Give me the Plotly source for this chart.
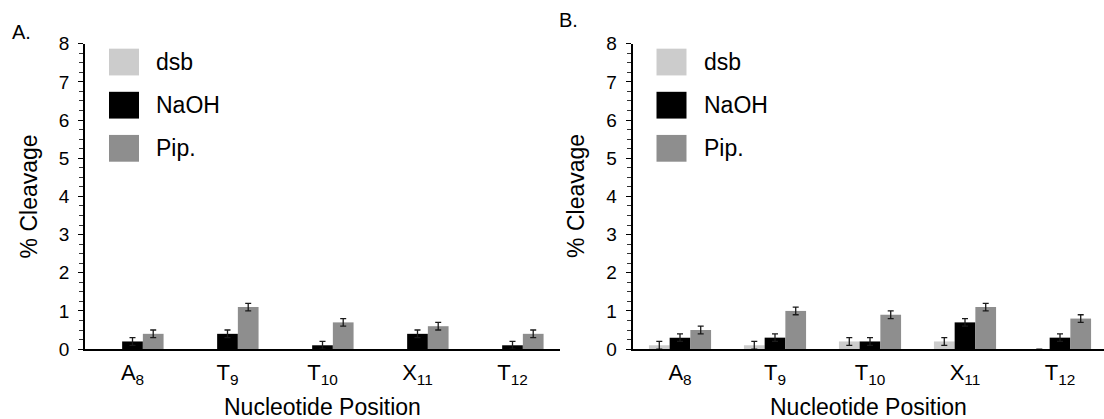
import plotly.graph_objects as go

# Nucleotide positions (x categories)
positions = ["A<sub>8</sub>", "T<sub>9</sub>", "T<sub>10</sub>", "X<sub>11</sub>", "T<sub>12</sub>"]
series_names = ["dsb", "NaOH", "Pip."]

# Panel A: % cleavage and error per treatment
a_dsb = [0.0, 0.0, 0.0, 0.0, 0.0]
a_naoh = [0.2, 0.4, 0.1, 0.4, 0.1]
a_pip = [0.4, 1.1, 0.7, 0.6, 0.4]
a_dsb_err = [None, None, None, None, None]
a_naoh_err = [0.1, 0.1, 0.1, 0.1, 0.1]
a_pip_err = [0.1, 0.1, 0.1, 0.1, 0.1]

# Panel B: % cleavage and error per treatment
b_dsb = [0.1, 0.1, 0.2, 0.2, 0.0]
b_naoh = [0.3, 0.3, 0.2, 0.7, 0.3]
b_pip = [0.5, 1.0, 0.9, 1.1, 0.8]
b_dsb_err = [0.1, 0.1, 0.1, 0.1, 0.0]
b_naoh_err = [0.1, 0.1, 0.1, 0.1, 0.1]
b_pip_err = [0.1, 0.1, 0.1, 0.1, 0.1]

colors = {"dsb": "#cccccc", "NaOH": "#000000", "Pip.": "#8e8e8e"}

W, H = 1104, 419
FONT = "Liberation Sans, Arial, Helvetica, sans-serif"

# vertical placement helper (page offset / scale of the rendered figure)
V_OFF, V_SCALE = 8.0, 0.958


def px(x):
    return x / W


def py(y):
    return 1 - ((y - V_OFF) / V_SCALE) / H


fig = go.Figure()

panels = [
    ("x", "y", [a_dsb, a_naoh, a_pip], [a_dsb_err, a_naoh_err, a_pip_err]),
    ("x2", "y2", [b_dsb, b_naoh, b_pip], [b_dsb_err, b_naoh_err, b_pip_err]),
]
for xa, ya, vals, errs in panels:
    for name, v, e in zip(series_names, vals, errs):
        has_err = any(val is not None for val in e)
        fig.add_trace(go.Bar(
            x=positions, y=v, name=name, xaxis=xa, yaxis=ya,
            marker=dict(color=colors[name], line=dict(width=0)),
            error_y=dict(type="data", array=e, visible=has_err,
                         color="#1a1a1a", thickness=1.3, width=3),
            showlegend=False,
        ))

# plot-area geometry (pixels)
a_left, a_right = 85, 560
b_left, b_right = 632.5, 1104
y_top, y_bot = 42, 350
y_dom = [py(y_bot), py(y_top)]

xcommon = dict(
    showline=True, linecolor="black", linewidth=1.5, ticks="",
    showgrid=False, zeroline=False, type="category",
    tickfont=dict(family=FONT, size=22, color="black"),
    ticklabelstandoff=3,
)
ycommon = dict(
    range=[0, 8], tick0=0, dtick=1, showline=True, linecolor="black",
    linewidth=1.5, ticks="outside", ticklen=5, tickwidth=1.3, tickcolor="black",
    showgrid=False, zeroline=False,
    tickfont=dict(family=FONT, size=19, color="black"),
    ticklabelstandoff=5,
    minor=dict(tick0=0, dtick=0.25, ticks="outside", ticklen=4, tickwidth=1,
               tickcolor="#333333", showgrid=False),
)

fig.update_layout(
    width=W, height=H,
    margin=dict(l=0, r=0, t=0, b=0),
    paper_bgcolor="white", plot_bgcolor="white",
    barmode="group", bargap=0.346, bargroupgap=0,
    xaxis=dict(domain=[px(a_left), px(a_right)], range=[-0.5, 4.5], anchor="y", **xcommon),
    yaxis=dict(domain=y_dom, anchor="x", **ycommon),
    xaxis2=dict(domain=[px(b_left), 1.0], range=[-0.5, 4.5 - 3.5 / 95], anchor="y2", **xcommon),
    yaxis2=dict(domain=y_dom, anchor="x2", **ycommon),
    font=dict(family=FONT, color="black"),
)

annotations = []
shapes = []
for left, right, letter, letter_x, letter_y in [
    (a_left, a_right, "A.", 10, 30),
    (b_left, b_right, "B.", 557, 18),
]:
    # panel letter
    annotations.append(dict(text=letter, x=px(letter_x), y=py(letter_y), xref="paper", yref="paper",
                            xanchor="left", yanchor="middle", showarrow=False,
                            font=dict(family=FONT, size=20, color="black")))
    # axis titles
    annotations.append(dict(text="% Cleavage", x=px(left - 56), y=py(196), xref="paper", yref="paper",
                            textangle=-90, xanchor="center", yanchor="middle", showarrow=False,
                            font=dict(family=FONT, size=23, color="black")))
    center = (left + min(right, left + 475)) / 2
    annotations.append(dict(text="Nucleotide Position", x=px(center), y=py(408), xref="paper", yref="paper",
                            xanchor="center", yanchor="middle", showarrow=False,
                            font=dict(family=FONT, size=23, color="black")))
    # legend keys
    for i, name in enumerate(series_names):
        top = 47 + i * 43.5
        shapes.append(dict(type="rect", xref="paper", yref="paper",
                           x0=px(left + 24), x1=px(left + 54), y0=py(top + 27), y1=py(top),
                           fillcolor=colors[name], line=dict(width=0)))
        annotations.append(dict(text=name, x=px(left + 69), y=py(top + 13.5), xref="paper", yref="paper",
                                xanchor="left", yanchor="middle", showarrow=False,
                                font=dict(family=FONT, size=23, color="black")))

fig.update_layout(annotations=annotations, shapes=shapes)

fig.write_html("out.html")
